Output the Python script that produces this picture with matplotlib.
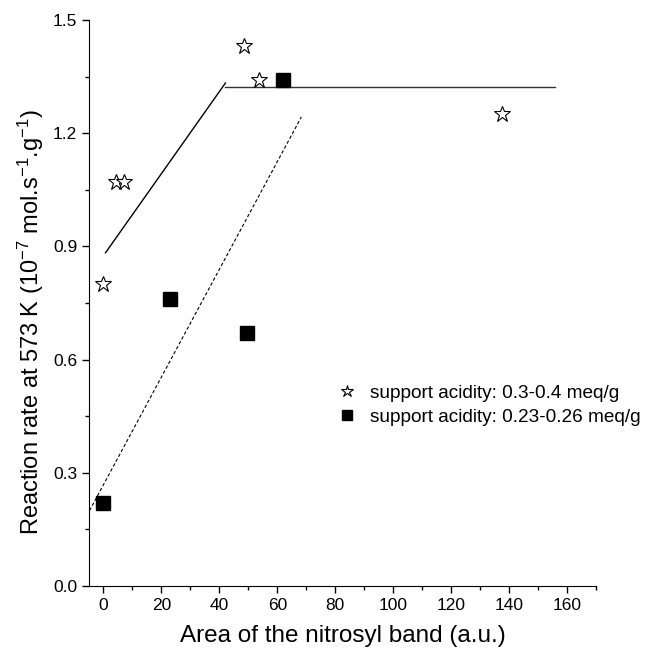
import matplotlib.pyplot as plt
from matplotlib.ticker import MultipleLocator

plt.rcParams['font.family'] = ['Liberation Sans', 'DejaVu Sans']
plt.rcParams['mathtext.default'] = 'regular'

# data
star_x = [0, 4.5, 7, 48.6, 53.8, 137.6]
star_y = [0.80, 1.07, 1.07, 1.43, 1.34, 1.25]
sq_x = [0, 22.8, 49.7, 62.1]
sq_y = [0.22, 0.76, 0.67, 1.34]

# guide lines drawn in the original
rise_x = [0.7, 42.1]
rise_y = [0.883, 1.333]
plateau_x = [42.1, 155.8]
plateau_y = [1.322, 1.322]
dash_x = [-4.8, 68.3]
dash_y = [0.20, 1.243]


def draw():
    fig = plt.figure(figsize=(6.48, 6.51), dpi=100)
    ax = fig.add_axes([0.1373, 0.0998, 0.7825, 0.8695])

    ax.plot(rise_x, rise_y, color='black', lw=1.0)
    ax.plot(plateau_x, plateau_y, color='#333333', lw=1.0)
    ax.plot(dash_x, dash_y, color='black', lw=0.8, ls=(0, (3, 2)))

    ax.plot(star_x, star_y, ls='none', marker='*', ms=12, mfc='white',
            mec='black', mew=0.8, label='support acidity: 0.3-0.4 meq/g')
    ax.plot(sq_x, sq_y, ls='none', marker='s', ms=10, mfc='black',
            mec='black', label='support acidity: 0.23-0.26 meq/g')

    ax.set_xlim(-5, 170)
    ax.set_ylim(0, 1.5)
    ax.xaxis.set_major_locator(MultipleLocator(20))
    ax.xaxis.set_minor_locator(MultipleLocator(10))
    ax.yaxis.set_major_locator(MultipleLocator(0.3))
    ax.yaxis.set_minor_locator(MultipleLocator(0.15))
    ax.yaxis.set_major_formatter(plt.FormatStrFormatter('%.1f'))

    for s in ['top', 'right']:
        ax.spines[s].set_visible(False)
    ax.tick_params(which='both', direction='out', labelsize=12.5, width=1)
    ax.tick_params(which='major', length=5)
    ax.tick_params(which='minor', length=3)

    ax.set_xlabel('Area of the nitrosyl band (a.u.)', fontsize=17.5, labelpad=9)
    ax.set_ylabel('Reaction rate at 573 K (10$^{-7}$ mol.s$^{-1}$.g$^{-1}$)',
                  fontsize=17)
    ax.yaxis.set_label_coords(-0.085, 0.466)

    ax.legend(loc='upper left', bbox_to_anchor=(0.491, 0.356), frameon=False,
              fontsize=13.7, handletextpad=0.7, labelspacing=0.35,
              borderaxespad=0, borderpad=0, handlelength=1.0, markerscale=0.75)

    fig.savefig('out.png', dpi=100)


if __name__ == "__main__":
    draw()
